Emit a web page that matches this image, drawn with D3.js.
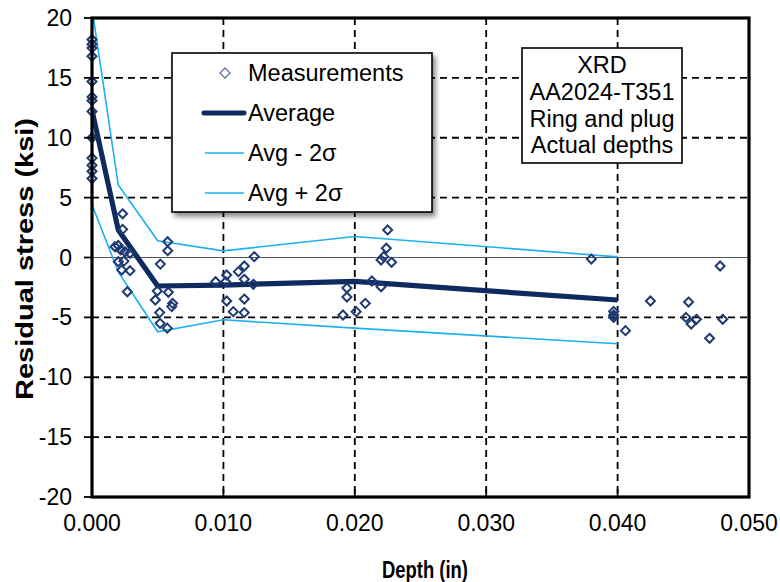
<!DOCTYPE html>
<html>
<head>
<meta charset="utf-8">
<script src="https://cdn.jsdelivr.net/npm/d3@7/dist/d3.min.js"></script>
<style>
  html, body { margin: 0; padding: 0; background: #fff; }
  svg { display: block; font-family: "Liberation Sans", Arial, sans-serif; }
</style>
</head>
<body>
<svg id="chart" width="780" height="582"></svg>
<script>
// Individual XRD measurements: depth (in) and residual stress (ksi)
const measDepth = [
  0, 0, 0, 0, 0, 0, 0, 0, 0, 0, 0, 0, 0,
  0.00233, 0.00233, 0.00175, 0.0020, 0.00218, 0.00251, 0.00289, 0.0020, 0.00243, 0.00226, 0.00289, 0.00269,
  0.00576, 0.00576, 0.00520, 0.00497, 0.00581, 0.00482, 0.00614, 0.00607, 0.00515, 0.00518, 0.00573,
  0.01235, 0.01159, 0.01114, 0.01025, 0.00941, 0.01017, 0.01159, 0.01228, 0.01025, 0.01159, 0.01075, 0.01159,
  0.0225, 0.0224, 0.0222, 0.0220, 0.0228, 0.0213, 0.0220, 0.0194, 0.0194, 0.0208, 0.0201, 0.0191,
  0.0380, 0.0397, 0.0397, 0.0397, 0.0406, 0.0425, 0.0454, 0.0452, 0.0456, 0.0460, 0.0470, 0.0478, 0.0480
];
const measStress = [
  18.2, 17.8, 17.5, 16.8, 14.7, 13.4, 13.1, 12.2, 10.0, 8.3, 7.7, 7.2, 6.6,
  3.65, 2.35, 0.9, 1.0, 0.63, 0.48, 0.35, -0.35, -0.3, -1.05, -1.1, -2.86,
  1.32, 0.57, -0.55, -2.8, -2.9, -3.55, -3.83, -4.1, -4.6, -5.5, -5.9,
  0.07, -0.71, -1.18, -1.46, -2.02, -2.02, -1.82, -2.24, -3.63, -3.47, -4.52, -4.6,
  2.3, 0.77, 0.07, -0.21, -0.4, -1.96, -2.44, -2.55, -3.3, -3.83, -4.52, -4.8,
  -0.13, -4.5, -4.8, -5.0, -6.11, -3.63, -3.72, -5.0, -5.55, -5.16, -6.75, -0.71, -5.16
];

// Average profile and the ±2σ band
const avgDepth  = [0, 0.002, 0.005, 0.010, 0.020, 0.040];
const avgStress = [12.3, 2.3, -2.38, -2.3, -2.0, -3.55];
const avgMinus2s = [4.4, -1.2, -6.2, -5.2, -5.9, -7.2];
const avgPlus2s  = [20.8, 6.05, 1.4, 0.55, 1.75, 0.05];

// Axis ticks
const xTicks = [0, 0.01, 0.02, 0.03, 0.04, 0.05];
const xTickLabels = ["0.000", "0.010", "0.020", "0.030", "0.040", "0.050"];
const yTicks = [-20, -15, -10, -5, 0, 5, 10, 15, 20];

const legendLabels = ["Measurements", "Average", "Avg - 2σ", "Avg + 2σ"];
const noteLines = ["XRD", "AA2024-T351", "Ring and plug", "Actual depths"];

const C_AVG = "#0e2a5e";
const C_BAND = "#1cb0ee";
const C_MARK = "#1e3a72";

const svg = d3.select("#chart");
const L = 92, R = 749, T = 18, B = 497;

const x = d3.scaleLinear().domain([0, 0.05]).range([L, R]);
const y = d3.scaleLinear().domain([-20, 20]).range([B, T]);

const defs = svg.append("defs");
defs.append("clipPath").attr("id", "plotClip")
  .append("rect").attr("x", L).attr("y", T).attr("width", R - L).attr("height", B - T);
const sh = defs.append("filter").attr("id", "shadow")
  .attr("x", "-10%").attr("y", "-10%").attr("width", "130%").attr("height", "130%");
sh.append("feDropShadow").attr("dx", 3).attr("dy", 4).attr("stdDeviation", 2.5)
  .attr("flood-color", "#000").attr("flood-opacity", 0.45);

// Dashed grid
const grid = svg.append("g");
grid.selectAll("line.h").data(yTicks.filter(v => v !== 0 && v !== 20 && v !== -20)).join("line")
  .attr("x1", L).attr("x2", R).attr("y1", d => y(d)).attr("y2", d => y(d))
  .attr("stroke", "#000").attr("stroke-width", 1.8).attr("stroke-dasharray", "7,5");
grid.selectAll("line.v").data(xTicks.filter(v => v !== 0 && v !== 0.05)).join("line")
  .attr("y1", T).attr("y2", B).attr("x1", d => x(d)).attr("x2", d => x(d))
  .attr("stroke", "#000").attr("stroke-width", 1.8).attr("stroke-dasharray", "7,5");
// Zero line
svg.append("line").attr("x1", L).attr("x2", R).attr("y1", y(0)).attr("y2", y(0))
  .attr("stroke", "#555").attr("stroke-width", 1.2);

// Lines
const plot = svg.append("g").attr("clip-path", "url(#plotClip)");
const lineGen = vals => d3.line().x((d, i) => x(avgDepth[i])).y(d => y(d))(vals);
plot.append("path").attr("d", lineGen(avgMinus2s)).attr("fill", "none")
  .attr("stroke", C_BAND).attr("stroke-width", 1.6);
plot.append("path").attr("d", lineGen(avgPlus2s)).attr("fill", "none")
  .attr("stroke", C_BAND).attr("stroke-width", 1.6);
plot.append("path").attr("d", lineGen(avgStress)).attr("fill", "none")
  .attr("stroke", C_AVG).attr("stroke-width", 5.2).attr("stroke-linejoin", "round");

// Measurement markers (hollow diamonds)
const diamond = s => `M0,${-s}L${s},0L0,${s}L${-s},0Z`;
svg.append("g").selectAll("path").data(measDepth).join("path")
  .attr("transform", (d, i) => `translate(${x(d)},${y(measStress[i])})`)
  .attr("d", diamond(4.5))
  .attr("fill", "none").attr("stroke", C_MARK).attr("stroke-width", 2);

// Frame
svg.append("rect").attr("x", L).attr("y", T).attr("width", R - L).attr("height", B - T)
  .attr("fill", "none").attr("stroke", "#000").attr("stroke-width", 3.2);

// Y axis ticks and labels
const yAx = svg.append("g");
yAx.selectAll("line").data(yTicks).join("line")
  .attr("x1", L - 8).attr("x2", L).attr("y1", d => y(d)).attr("y2", d => y(d))
  .attr("stroke", "#000").attr("stroke-width", 1.8);
yAx.selectAll("text").data(yTicks).join("text")
  .attr("x", 72).attr("y", d => y(d) + 8).attr("text-anchor", "end")
  .attr("font-size", 23).attr("fill", "#000").text(d => d);

// X axis ticks and labels
const xAx = svg.append("g");
xAx.selectAll("line").data(xTicks).join("line")
  .attr("x1", d => x(d)).attr("x2", d => x(d)).attr("y1", B - 8).attr("y2", B)
  .attr("stroke", "#000").attr("stroke-width", 1.8);
xAx.selectAll("text").data(xTicks).join("text")
  .attr("x", d => x(d)).attr("y", 531).attr("text-anchor", "middle")
  .attr("font-size", 23).attr("fill", "#000").text((d, i) => xTickLabels[i]);

// Axis titles
svg.append("text").attr("x", 425).attr("y", 578).attr("text-anchor", "middle")
  .attr("font-size", 24).attr("font-weight", "bold")
  .attr("textLength", 86).attr("lengthAdjust", "spacingAndGlyphs")
  .text("Depth (in)");
svg.append("text").attr("transform", "translate(33,259) rotate(-90)")
  .attr("text-anchor", "middle").attr("font-size", 23).attr("font-weight", "bold")
  .attr("textLength", 282).attr("lengthAdjust", "spacingAndGlyphs")
  .text("Residual stress (ksi)");

// Legend
const lg = svg.append("g");
lg.append("rect").attr("x", 172).attr("y", 53).attr("width", 260).attr("height", 159)
  .attr("fill", "#fff").attr("stroke", "#000").attr("stroke-width", 1.6)
  .attr("filter", "url(#shadow)");
const rowY = [73, 113, 153, 193];
lg.append("path").attr("transform", `translate(225,${rowY[0]})`).attr("d", diamond(5))
  .attr("fill", "none").attr("stroke", "#5d72a6").attr("stroke-width", 1.3);
lg.append("line").attr("x1", 204).attr("x2", 244).attr("y1", rowY[1]).attr("y2", rowY[1])
  .attr("stroke", C_AVG).attr("stroke-width", 5).attr("stroke-linecap", "round");
[2, 3].forEach(k => lg.append("line").attr("x1", 205).attr("x2", 244)
  .attr("y1", rowY[k]).attr("y2", rowY[k]).attr("stroke", C_BAND).attr("stroke-width", 1.6));
lg.selectAll("text").data(legendLabels).join("text")
  .attr("x", 248).attr("y", (d, i) => rowY[i] + 8).attr("font-size", 23.5).attr("fill", "#000")
  .text(d => d);

// Note box
const nb = svg.append("g");
nb.append("rect").attr("x", 522).attr("y", 48).attr("width", 160).attr("height", 115)
  .attr("fill", "#fff").attr("stroke", "#000").attr("stroke-width", 1.6);
nb.selectAll("text").data(noteLines).join("text")
  .attr("x", 602).attr("y", (d, i) => 73 + i * 26.8).attr("text-anchor", "middle")
  .attr("font-size", 23.5).attr("fill", "#000").text(d => d);
</script>
</body>
</html>
